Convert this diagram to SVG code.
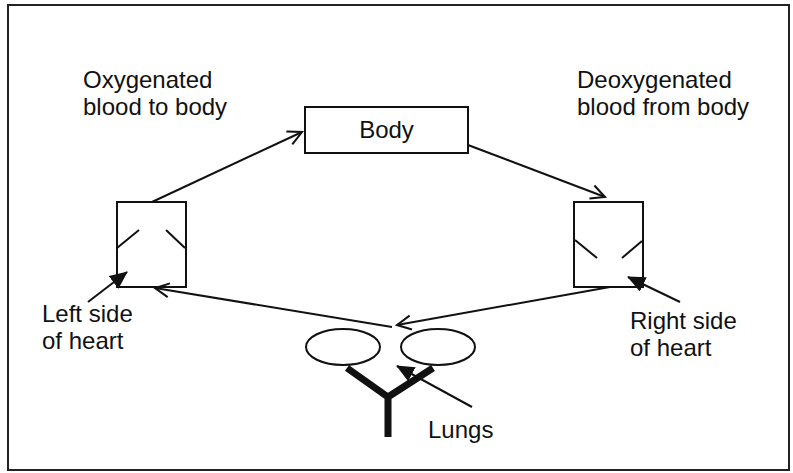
<svg xmlns="http://www.w3.org/2000/svg" width="793" height="473" viewBox="0 0 793 473">
<defs>
<style>
.ln{fill:none;stroke:#111;stroke-width:2}
.box{fill:#fff;stroke:#111;stroke-width:2}
.t{font-family:"Liberation Sans",Arial,sans-serif;font-size:24px;fill:#111}
.trachea{fill:none;stroke:#111;stroke-width:7;stroke-linejoin:miter}
</style>
<marker id="open" markerUnits="userSpaceOnUse" markerWidth="20" markerHeight="20" viewBox="0 0 20 20" refX="17" refY="10" orient="auto">
<path d="M3,3 L17,10 L3,17" fill="none" stroke="#111" stroke-width="2"/>
</marker>
<marker id="solid" markerUnits="userSpaceOnUse" markerWidth="18" markerHeight="16" viewBox="0 0 18 16" refX="17" refY="8" orient="auto">
<path d="M0,0 L18,8 L0,16 z" fill="#111"/>
</marker>
</defs>
<rect x="0" y="0" width="793" height="473" fill="#fff"/>
<rect x="8" y="5" width="781" height="465" fill="none" stroke="#222" stroke-width="2"/>

<g id="body">
<rect class="box" x="305" y="107" width="163" height="46"/>
<text class="t" x="386.5" y="138" text-anchor="middle">Body</text>
</g>

<g id="left-heart">
<rect class="box" x="117" y="202" width="69" height="85"/>
<path class="ln" d="M117,248 L139,230 M166,230 L185,248"/>
</g>

<g id="right-heart">
<rect class="box" x="574" y="202" width="69" height="85"/>
<path class="ln" d="M575,240 L597,258 M622,258 L642,241"/>
</g>

<g id="lungs">
<ellipse class="ln" cx="343" cy="347" rx="37" ry="18"/>
<ellipse class="ln" cx="438" cy="347" rx="37" ry="18"/>
<path class="trachea" d="M347,368 L388,397 L433,368 M388,395 L388,437"/>
</g>

<g id="label-oxygenated">
<text class="t" x="83" y="88">Oxygenated</text>
<text class="t" x="83" y="115">blood to body</text>
</g>
<g id="label-deoxygenated">
<text class="t" x="577" y="88">Deoxygenated</text>
<text class="t" x="577" y="115">blood from body</text>
</g>
<g id="label-left">
<text class="t" x="42" y="322">Left side</text>
<text class="t" x="42" y="349">of heart</text>
</g>
<g id="label-right">
<text class="t" x="630" y="329">Right side</text>
<text class="t" x="630" y="356">of heart</text>
</g>
<g id="label-lungs">
<text class="t" x="428" y="438">Lungs</text>
</g>

<g id="connectors">
<line class="ln" x1="152" y1="202" x2="302" y2="132" marker-end="url(#open)"/>
<line class="ln" x1="468" y1="145" x2="605" y2="197" marker-end="url(#open)"/>
<line class="ln" x1="610" y1="287" x2="397" y2="325" marker-end="url(#open)"/>
<line class="ln" x1="392" y1="327" x2="155" y2="288" marker-end="url(#open)"/>
<line class="ln" x1="88" y1="302" x2="127" y2="272" marker-end="url(#solid)"/>
<line class="ln" x1="680" y1="302" x2="628" y2="277" marker-end="url(#solid)"/>
<line class="ln" x1="472" y1="407" x2="397" y2="366" marker-end="url(#solid)"/>
</g>
</svg>
